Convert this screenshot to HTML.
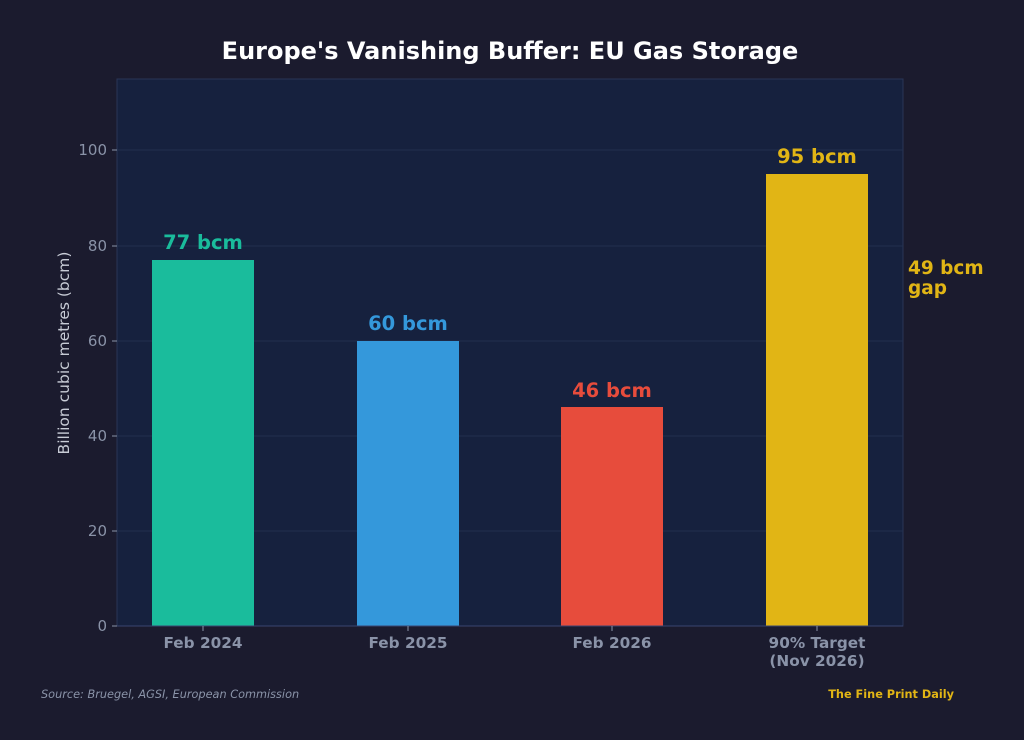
<!DOCTYPE html>
<html><head><meta charset="utf-8"><style>
html,body{margin:0;padding:0;background:#1b1b2e;}
svg{display:block;font-family:"DejaVu Sans","Liberation Sans",sans-serif;}
</style></head><body>
<svg width="1024" height="740" viewBox="0 0 1024 740" xmlns="http://www.w3.org/2000/svg">
<rect width="1024" height="740" fill="#1b1b2e"/>
<text x="510" y="59" text-anchor="middle" font-size="24" font-weight="bold" fill="#ffffff">Europe's Vanishing Buffer: EU Gas Storage</text>
<rect x="117" y="79" width="786" height="547" fill="#16213e" stroke="#2a3556" stroke-width="1"/>
<g stroke="#22304d" stroke-width="1">
<line x1="117" y1="531" x2="903" y2="531"/>
<line x1="117" y1="436" x2="903" y2="436"/>
<line x1="117" y1="341" x2="903" y2="341"/>
<line x1="117" y1="246" x2="903" y2="246"/>
<line x1="117" y1="150" x2="903" y2="150"/>
</g>
<rect x="152" y="260" width="102" height="366" fill="#1abc9c"/>
<rect x="357" y="341" width="102" height="285" fill="#3498db"/>
<rect x="561" y="407" width="102" height="219" fill="#e74c3c"/>
<rect x="766" y="174" width="102" height="452" fill="#e1b515"/>
<g font-size="19.5" font-weight="bold" text-anchor="middle">
<text x="203" y="249" fill="#1abc9c">77 bcm</text>
<text x="408" y="330" fill="#3498db">60 bcm</text>
<text x="612" y="397" fill="#e74c3c">46 bcm</text>
<text x="817" y="163" fill="#e1b515">95 bcm</text>
</g>
<text x="908" y="274" font-size="18.5" font-weight="bold" fill="#e1b515">49 bcm</text>
<text x="908" y="294" font-size="18.5" font-weight="bold" fill="#e1b515">gap</text>
<line x1="117" y1="626" x2="903" y2="626" stroke="#3a4570"/>
<g stroke="#8a93a8" stroke-width="1">
<line x1="112" y1="626" x2="117" y2="626"/><line x1="112" y1="531" x2="117" y2="531"/>
<line x1="112" y1="436" x2="117" y2="436"/><line x1="112" y1="341" x2="117" y2="341"/>
<line x1="112" y1="246" x2="117" y2="246"/><line x1="112" y1="150" x2="117" y2="150"/>
<line x1="203" y1="626" x2="203" y2="631"/><line x1="408" y1="626" x2="408" y2="631"/>
<line x1="612" y1="626" x2="612" y2="631"/><line x1="817" y1="626" x2="817" y2="631"/>
</g>
<g font-size="15" fill="#8a93a8" text-anchor="end">
<text x="107" y="631">0</text><text x="107" y="536">20</text><text x="107" y="441">40</text>
<text x="107" y="346">60</text><text x="107" y="251">80</text><text x="107" y="155">100</text>
</g>
<g font-size="15.3" font-weight="bold" fill="#8a93a8" text-anchor="middle">
<text x="203" y="648">Feb 2024</text><text x="408" y="648">Feb 2025</text>
<text x="612" y="648">Feb 2026</text><text x="817" y="648">90% Target</text>
<text x="817" y="666">(Nov 2026)</text>
</g>
<text transform="translate(69,353) rotate(-90)" font-size="15.5" fill="#c8ccd6" text-anchor="middle">Billion cubic metres (bcm)</text>
<text x="41" y="698" font-size="11.3" font-style="italic" fill="#8a93a8">Source: Bruegel, AGSI, European Commission</text>
<text x="954" y="698" font-size="11.3" font-weight="bold" fill="#e1b515" text-anchor="end">The Fine Print Daily</text>
</svg>
</body></html>
